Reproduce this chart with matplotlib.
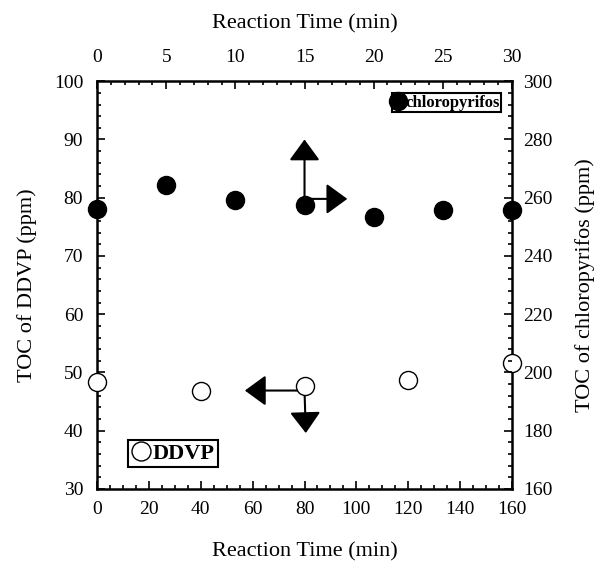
import numpy as np
import matplotlib.pyplot as plt
from matplotlib.ticker import MultipleLocator

plt.rcParams['font.family'] = ['Liberation Serif', 'DejaVu Serif']

# DDVP: bottom axis (min), left axis (ppm)
ddvp_time = [0, 40, 80, 120, 160]
ddvp_toc = [48.3, 46.9, 47.6, 48.7, 51.6]

# chloropyrifos: top axis (min), right axis (ppm)
chl_time = [0, 5, 10, 15, 20, 25, 30]
chl_toc = [256.0, 264.4, 259.2, 257.6, 253.4, 255.8, 255.8]

# arrows showing which axes belong to which series (bottom/left coords)
ddvp_arrow_start = (80, 46.9)
ddvp_arrow_left = (57, 46.9)
ddvp_arrow_down = (80.5, 39.6)
chl_arrow_start = (80, 79.8)
chl_arrow_up = (80, 90.0)
chl_arrow_right = (96.5, 79.8)

fig = plt.figure(figsize=(6.03, 5.64), dpi=100)
pos = [0.161, 0.133, 0.688, 0.723]
ax = fig.add_axes(pos)
ax2 = fig.add_axes(pos, frameon=False)

fs = 14
lfs = 16

ax.plot(ddvp_time, ddvp_toc, 'o', mfc='white', mec='black', mew=1.0, ms=13,
        clip_on=False, zorder=5, label='DDVP')
ax.set_xlim(0, 160)
ax.set_ylim(30, 100)
ax.xaxis.set_major_locator(MultipleLocator(20))
ax.xaxis.set_minor_locator(MultipleLocator(5))
ax.yaxis.set_major_locator(MultipleLocator(10))
ax.yaxis.set_minor_locator(MultipleLocator(2))
ax.tick_params(which='both', direction='in', top=False, right=False, labelsize=fs, width=1.2)
ax.tick_params(which='major', length=6)
ax.tick_params(which='minor', length=3)
ax.tick_params(axis='x', pad=9)
ax.tick_params(axis='y', pad=10)
ax.set_xlabel('Reaction Time (min)', fontsize=lfs, labelpad=17)
ax.set_ylabel('TOC of DDVP (ppm)', fontsize=lfs, labelpad=12)
for s in ax.spines.values():
    s.set_linewidth(1.8)

ax2.plot(chl_time, chl_toc, 'o', color='black', ms=13, clip_on=False, zorder=5,
         label='chloropyrifos')
ax2.set_xlim(0, 30)
ax2.set_ylim(160, 300)
ax2.xaxis.tick_top()
ax2.xaxis.set_label_position('top')
ax2.yaxis.tick_right()
ax2.yaxis.set_label_position('right')
ax2.xaxis.set_major_locator(MultipleLocator(5))
ax2.xaxis.set_minor_locator(MultipleLocator(1))
ax2.yaxis.set_major_locator(MultipleLocator(20))
ax2.yaxis.set_minor_locator(MultipleLocator(4))
ax2.tick_params(which='both', direction='in', labelsize=fs, width=1.2)
ax2.tick_params(which='major', length=6)
ax2.tick_params(which='minor', length=3)
ax2.tick_params(axis='x', pad=11)
ax2.tick_params(axis='y', pad=8)
ax2.set_xlabel('Reaction Time (min)', fontsize=lfs, labelpad=15)
ax2.set_ylabel('TOC of chloropyrifos (ppm)', fontsize=lfs, labelpad=16)

arrow = dict(arrowstyle='-|>,head_length=1.3,head_width=0.95', color='black', lw=1.5,
             shrinkA=0, shrinkB=0)
for start, end in [(ddvp_arrow_start, ddvp_arrow_left), (ddvp_arrow_start, ddvp_arrow_down),
                   (chl_arrow_start, chl_arrow_up), (chl_arrow_start, chl_arrow_right)]:
    ax.annotate('', xy=end, xytext=start, arrowprops=arrow, zorder=4)

leg1 = ax.legend(loc='lower left', bbox_to_anchor=(0.074, 0.054), fancybox=False,
                 edgecolor='black', framealpha=1, handlelength=0.9, handletextpad=0.05,
                 borderpad=0.15, borderaxespad=0, markerscale=1.05,
                 prop={'size': 16, 'weight': 'bold'})
leg1.get_frame().set_linewidth(1.5)
leg2 = ax2.legend(loc='upper right', bbox_to_anchor=(0.974, 0.971), fancybox=False,
                  edgecolor='black', framealpha=1, handlelength=0.6, handletextpad=0.1,
                  borderpad=0.1, borderaxespad=0, markerscale=1.0,
                  prop={'size': 12, 'weight': 'bold'})
leg2.get_frame().set_linewidth(1.5)

fig.savefig('out.png', dpi=100)
